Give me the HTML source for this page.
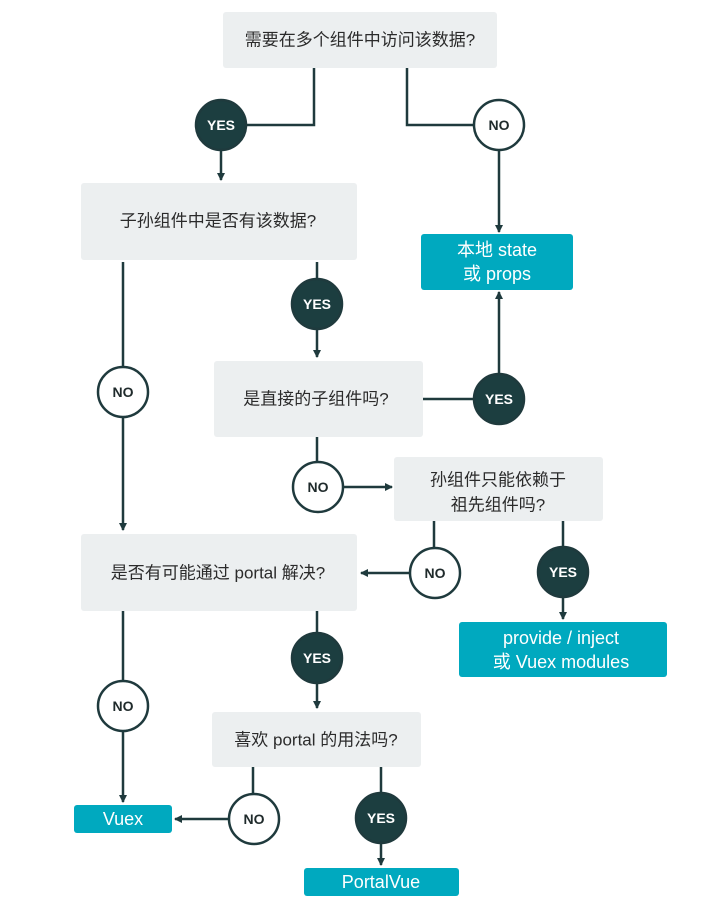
<!DOCTYPE html>
<html><head><meta charset="utf-8"><style>
html,body{margin:0;padding:0;background:#fff}
svg{display:block}
.t{font-family:"Liberation Sans","Noto Sans CJK SC",sans-serif;font-size:17px;fill:#2b2b2b;text-anchor:middle;dominant-baseline:central}
.w{font-family:"Liberation Sans","Noto Sans CJK SC",sans-serif;font-size:18px;fill:#fff;text-anchor:middle;dominant-baseline:central}
.c{font-family:"Liberation Sans",sans-serif;font-size:14px;font-weight:bold;text-anchor:middle;dominant-baseline:central}
</style></head><body>
<svg width="720" height="921" viewBox="0 0 720 921" xmlns="http://www.w3.org/2000/svg">
<defs><marker id="a" markerWidth="8" markerHeight="8" refX="7" refY="4" orient="auto" markerUnits="userSpaceOnUse"><path d="M0,0 L8,4 L0,8 z" fill="#1f3a3d"/></marker></defs>
<g fill="#eceff0">
<rect x="223" y="12" width="274" height="56" rx="3"/>
<rect x="81" y="183" width="276" height="77" rx="3"/>
<rect x="214" y="361" width="209" height="76" rx="3"/>
<rect x="394" y="457" width="209" height="64" rx="3"/>
<rect x="81" y="534" width="276" height="77" rx="3"/>
<rect x="212" y="712" width="209" height="55" rx="3"/>
</g>
<g fill="#00a9bf">
<rect x="421" y="234" width="152" height="56" rx="3"/>
<rect x="459" y="622" width="208" height="55" rx="3"/>
<rect x="74" y="805" width="98" height="28" rx="3"/>
<rect x="304" y="868" width="155" height="28" rx="3"/>
</g>
<g stroke="#1f3a3d" stroke-width="2.5" fill="none">
<path d="M314,68 V125 H221"/>
<path d="M221,150 V180" marker-end="url(#a)"/>
<path d="M407,68 V125 H499"/>
<path d="M499,150 V232" marker-end="url(#a)"/>
<path d="M123,262 V530" marker-end="url(#a)"/>
<path d="M317,262 V357" marker-end="url(#a)"/>
<path d="M423,399 H499 V292" marker-end="url(#a)"/>
<path d="M317,437 V487"/>
<path d="M343,487 H392" marker-end="url(#a)"/>
<path d="M434,521 V573 H361" marker-end="url(#a)"/>
<path d="M563,521 V619" marker-end="url(#a)"/>
<path d="M123,611 V802" marker-end="url(#a)"/>
<path d="M317,611 V708" marker-end="url(#a)"/>
<path d="M253,767 V819 H175" marker-end="url(#a)"/>
<path d="M381,767 V865" marker-end="url(#a)"/>
</g>
<g stroke="#1f3a3d" stroke-width="2.5">
<circle cx="221" cy="125" r="25" fill="#1c3e40"/>
<circle cx="499" cy="125" r="25" fill="#fff"/>
<circle cx="317" cy="304" r="25" fill="#1c3e40"/>
<circle cx="123" cy="392" r="25" fill="#fff"/>
<circle cx="499" cy="399" r="25" fill="#1c3e40"/>
<circle cx="318" cy="487" r="25" fill="#fff"/>
<circle cx="435" cy="573" r="25" fill="#fff"/>
<circle cx="563" cy="572" r="25" fill="#1c3e40"/>
<circle cx="123" cy="706" r="25" fill="#fff"/>
<circle cx="317" cy="658" r="25" fill="#1c3e40"/>
<circle cx="254" cy="819" r="25" fill="#fff"/>
<circle cx="381" cy="818" r="25" fill="#1c3e40"/>
</g>
<g class="c">
<text x="221" y="125" fill="#fff">YES</text>
<text x="499" y="125" fill="#1f2a2b">NO</text>
<text x="317" y="304" fill="#fff">YES</text>
<text x="123" y="392" fill="#1f2a2b">NO</text>
<text x="499" y="399" fill="#fff">YES</text>
<text x="318" y="487" fill="#1f2a2b">NO</text>
<text x="435" y="573" fill="#1f2a2b">NO</text>
<text x="563" y="572" fill="#fff">YES</text>
<text x="123" y="706" fill="#1f2a2b">NO</text>
<text x="317" y="658" fill="#fff">YES</text>
<text x="254" y="819" fill="#1f2a2b">NO</text>
<text x="381" y="818" fill="#fff">YES</text>
</g>
<text class="t" x="360" y="40">需要在多个组件中访问该数据?</text>
<text class="t" x="218" y="221">子孙组件中是否有该数据?</text>
<text class="t" x="316" y="399">是直接的子组件吗?</text>
<text class="t" x="498" y="480">孙组件只能依赖于</text>
<text class="t" x="498" y="505">祖先组件吗?</text>
<text class="t" x="218" y="573">是否有可能通过 portal 解决?</text>
<text class="t" x="316" y="740">喜欢 portal 的用法吗?</text>
<text class="w" x="497" y="250">本地 state</text>
<text class="w" x="497" y="274">或 props</text>
<text class="w" x="561" y="638">provide / inject</text>
<text class="w" x="561" y="662">或 Vuex modules</text>
<text class="w" x="123" y="819">Vuex</text>
<text class="w" x="381" y="882">PortalVue</text>
</svg>
</body></html>
